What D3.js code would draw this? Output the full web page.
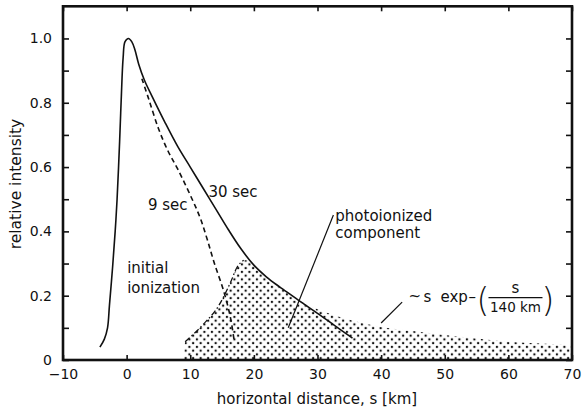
<!DOCTYPE html>
<html>
<head>
  <meta charset="utf-8">
  <title>relative intensity vs horizontal distance</title>
  <script src="https://d3js.org/d3.v7.min.js"></script>
  <style>
    body { margin: 0; background: #fff; }
    svg { font-family: "DejaVu Sans", sans-serif; fill: #111; }
  </style>
</head>
<body>
<div id="chart"></div>
<script>
// 30 sec curve (solid)
var sSolid = [-4.2, -3.5, -3.0, -2.7, -2.2, -1.8, -1.5, -1.1, -0.85, -0.55, -0.25, 0.3, 0.8, 1.3, 1.9, 2.8, 4.0, 6.0, 8.0, 10.0, 12.0, 14.0, 16.0, 18.0, 20.0, 22.0, 24.0, 26.0, 28.0, 30.0, 32.5, 35.5];
var vSolid = [0.04, 0.065, 0.10, 0.17, 0.29, 0.40, 0.50, 0.68, 0.81, 0.94, 0.99, 1.0, 0.99, 0.965, 0.92, 0.87, 0.82, 0.74, 0.665, 0.60, 0.535, 0.47, 0.405, 0.345, 0.295, 0.258, 0.228, 0.20, 0.172, 0.145, 0.11, 0.068];

// 9 sec curve (dashed)
var sDashed = [2.4, 3.5, 5.0, 6.5, 8.0, 10.3, 11.6, 12.7, 13.8, 15.2, 16.3, 16.9];
var vDashed = [0.875, 0.81, 0.72, 0.65, 0.595, 0.50, 0.44, 0.373, 0.30, 0.218, 0.134, 0.06];

// photoionized component (stippled), upper edge
var sPhoto = [9.0, 9.2, 12.0, 14.5, 16.3, 17.4, 18.4, 19.3, 20.0, 22.0, 24.0, 26.0, 28.0, 30.0, 32.5, 35.0, 40.0, 45.0, 50.0, 55.0, 60.0, 65.0, 70.0];
var vPhoto = [0.0, 0.057, 0.11, 0.17, 0.24, 0.29, 0.31, 0.31, 0.295, 0.258, 0.228, 0.20, 0.175, 0.158, 0.14, 0.125, 0.103, 0.09, 0.078, 0.067, 0.057, 0.051, 0.046];
var nEdge = 7; // first points form the dash-dot left edge

var xTicks = [-10, 0, 10, 20, 30, 40, 50, 60, 70];
var xTickLabels = ["\u221210", "0", "10", "20", "30", "40", "50", "60", "70"];
var yTicks = [0, 0.2, 0.4, 0.6, 0.8, 1.0];
var yTickLabels = ["0", "0.2", "0.4", "0.6", "0.8", "1.0"];
var yMinor = [0.1, 0.3, 0.5, 0.7, 0.9];

// leader lines [s0, v0, s1, v1]
var leaderPhoto = [32.5, 0.451, 25.4, 0.10];
var leaderTail = [43.3, 0.180, 40.0, 0.115];

var W = 582, H = 413;
var x = d3.scaleLinear().domain([-10, 70]).range([63, 572]);
var y = d3.scaleLinear().domain([0, 1.1]).range([360, 6.3]);

var svg = d3.select("#chart").append("svg")
    .attr("width", W).attr("height", H);

var pat = svg.append("defs").append("pattern")
    .attr("id", "dots").attr("patternUnits", "userSpaceOnUse")
    .attr("width", 7.5).attr("height", 7.5);
pat.append("circle").attr("cx", 1.9).attr("cy", 1.9).attr("r", 1.2).attr("fill", "#111");
pat.append("circle").attr("cx", 5.65).attr("cy", 5.65).attr("r", 1.2).attr("fill", "#111");

var photo = d3.zip(sPhoto, vPhoto);
svg.append("path")
    .datum(photo)
    .attr("fill", "url(#dots)")
    .attr("d", d3.area().x(function(d){return x(d[0]);}).y0(y(0)).y1(function(d){return y(d[1]);})
        .curve(d3.curveMonotoneX));

svg.append("path")
    .datum(photo.slice(1, nEdge))
    .attr("fill", "none").attr("stroke", "#111").attr("stroke-width", 1.3)
    .attr("stroke-dasharray", "6,2.5,1.5,2.5")
    .attr("d", d3.line().x(function(d){return x(d[0]);}).y(function(d){return y(d[1]);})
        .curve(d3.curveMonotoneX));

var line = d3.line().x(function(d){return x(d[0]);}).y(function(d){return y(d[1]);})
    .curve(d3.curveCatmullRom);

svg.append("path")
    .datum(d3.zip(sSolid, vSolid))
    .attr("fill", "none").attr("stroke", "#111").attr("stroke-width", 1.6)
    .attr("d", line);

svg.append("path")
    .datum(d3.zip(sDashed, vDashed))
    .attr("fill", "none").attr("stroke", "#111").attr("stroke-width", 1.6)
    .attr("stroke-dasharray", "5,3.5")
    .attr("d", line);

[leaderPhoto, leaderTail].forEach(function(l){
  svg.append("line")
      .attr("x1", x(l[0])).attr("y1", y(l[1]))
      .attr("x2", x(l[2])).attr("y2", y(l[3]))
      .attr("stroke", "#111").attr("stroke-width", 1.2);
});

// axes: ticks point inward on all four sides
svg.append("g").attr("transform", "translate(0," + y(0) + ")")
    .call(d3.axisBottom(x).tickValues(xTicks).tickSizeInner(-5).tickSizeOuter(0)
        .tickPadding(9).tickFormat(function(d, i){return xTickLabels[i];}));
svg.append("g").attr("transform", "translate(0," + y(1.1) + ")")
    .call(d3.axisTop(x).tickValues(xTicks).tickSizeInner(-5).tickSizeOuter(0).tickFormat(""));
svg.append("g").attr("transform", "translate(" + x(-10) + ",0)")
    .call(d3.axisLeft(y).tickValues(yTicks).tickSizeInner(-6).tickSizeOuter(0)
        .tickPadding(11).tickFormat(function(d, i){return yTickLabels[i];}));
svg.append("g").attr("transform", "translate(" + x(-10) + ",0)")
    .call(d3.axisLeft(y).tickValues(yMinor).tickSizeInner(-6).tickSizeOuter(0).tickFormat(""));
svg.append("g").attr("transform", "translate(" + x(70) + ",0)")
    .call(d3.axisRight(y).tickValues(yTicks.concat(yMinor)).tickSizeInner(-6).tickSizeOuter(0).tickFormat(""));

svg.selectAll(".tick line").attr("stroke", "#111").attr("stroke-width", 1.6);
svg.selectAll(".domain").remove();
svg.selectAll(".tick text").attr("fill", "#111").style("font-size", "14px")
    .style("font-family", "'DejaVu Sans', sans-serif");

svg.append("rect")
    .attr("x", x(-10)).attr("y", y(1.1))
    .attr("width", x(70) - x(-10)).attr("height", y(0) - y(1.1))
    .attr("fill", "none").attr("stroke", "#111").attr("stroke-width", 2.6);

// axis titles
svg.append("text").attr("x", 317).attr("y", 404).attr("text-anchor", "middle")
    .style("font-size", "15px").text("horizontal distance, s [km]");
svg.append("text").attr("transform", "translate(21,184) rotate(-90)").attr("text-anchor", "middle")
    .style("font-size", "15.5px").text("relative intensity");

// labels, placed in data units
function label(s, v, t) {
  svg.append("text").attr("x", x(s)).attr("y", y(v)).style("font-size", "15px").text(t);
}
label(12.85, 0.507, "30 sec");
label(3.35, 0.467, "9 sec");
label(0.08, 0.271, "initial");
label(0.08, 0.208, "ionization");
label(32.8, 0.433, "photoionized");
label(32.8, 0.379, "component");

// tail formula
var f = svg.append("g").attr("transform", "translate(" + x(44.3) + "," + y(0.18) + ")")
    .style("font-size", "15px");
f.append("text").attr("x", 0).attr("y", -1).text("~");
f.append("text").attr("x", 15).attr("y", 0).text("s");
f.append("text").attr("x", 32).attr("y", 0).text("exp");
f.append("text").attr("x", 60).attr("y", 0).text("\u2013");
f.append("text").attr("x", 68).attr("y", 10).style("font-size", "33px").style("font-weight", "200").text("(");
f.append("text").attr("x", 107).attr("y", -9).attr("text-anchor", "middle").text("s");
f.append("line").attr("x1", 80).attr("x2", 134).attr("y1", -4.5).attr("y2", -4.5)
    .attr("stroke", "#111").attr("stroke-width", 1.2);
f.append("text").attr("x", 107).attr("y", 10).attr("text-anchor", "middle").style("font-size", "13.5px").text("140 km");
f.append("text").attr("x", 133).attr("y", 10).style("font-size", "33px").style("font-weight", "200").text(")");
</script>
</body>
</html>
